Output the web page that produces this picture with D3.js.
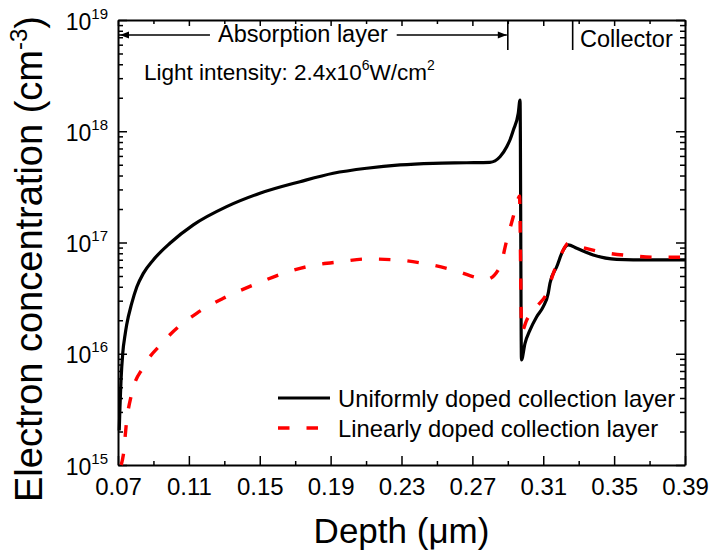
<!DOCTYPE html>
<html>
<head>
<meta charset="utf-8">
<script src="https://cdn.jsdelivr.net/npm/d3@7/dist/d3.min.js"></script>
<style>
  html, body { margin: 0; padding: 0; background: #fff; }
  svg { display: block; font-family: "Liberation Sans", Arial, sans-serif; }
</style>
</head>
<body>
<svg id="chart" width="710" height="556"></svg>
<script>
// Uniformly doped collection layer: depth (µm) and electron concentration (cm^-3)
const depthUniform = [0.0707, 0.0711, 0.0717, 0.0727, 0.0740, 0.0749, 0.0777, 0.0806, 0.0843, 0.0899,
  0.0993, 0.1125, 0.1313, 0.1501, 0.1727, 0.1915, 0.2104, 0.2292, 0.2479, 0.2668,
  0.2799, 0.2856, 0.2894, 0.2912, 0.2931, 0.2959, 0.2969,
  0.2977, 0.2997, 0.3025, 0.3063, 0.3100, 0.3128, 0.3138, 0.3176, 0.3213, 0.3241,
  0.3289, 0.3382, 0.3514, 0.3702, 0.3900];
const concUniform = [2.04e15, 3.31e15, 5.75e15, 1.02e16, 1.48e16, 1.82e16, 2.82e16, 3.98e16, 5.28e16, 6.97e16,
  9.84e16, 1.44e17, 2.10e17, 2.77e17, 3.52e17, 4.19e17, 4.65e17, 4.98e17, 5.15e17, 5.21e17,
  5.26e17, 5.90e17, 7.26e17, 8.34e17, 1.02e18, 1.45e18, 1.91e18,
  8.79e15, 1.24e16, 1.63e16, 2.15e16, 2.65e16, 3.49e16, 4.30e16, 6.05e16, 8.57e16, 9.51e16,
  8.87e16, 7.73e16, 7.06e16, 6.97e16, 6.97e16];

// Linearly doped collection layer
const depthLinear = [0.0718, 0.0730, 0.0749, 0.0777, 0.0843, 0.0956, 0.0993, 0.1144, 0.1294, 0.1464,
  0.1633, 0.1784, 0.1953, 0.2104, 0.2273, 0.2423, 0.2592, 0.2743, 0.2781, 0.2856,
  0.2894, 0.2931, 0.2959, 0.2966,
  0.2978, 0.3007, 0.3063, 0.3119, 0.3157, 0.3204, 0.3241, 0.3307, 0.3420, 0.3608,
  0.3759, 0.3900];
const concLinear = [1.0e15, 1.23e15, 2.51e15, 4.37e15, 7.59e15, 1.28e16, 1.48e16, 2.31e16, 3.15e16, 4.15e16,
  5.28e16, 6.15e16, 6.71e16, 7.11e16, 6.97e16, 6.50e16, 5.66e16, 4.76e16, 4.67e16, 6.05e16,
  1.05e17, 1.71e17, 2.49e17, 2.62e17,
  1.58e16, 2.01e16, 2.65e16, 3.49e16, 5.28e16, 8.00e16, 9.84e16, 9.16e16, 8.26e16, 7.57e16,
  7.36e16, 7.36e16];

// Axis ticks
const xMajorTicks = [0.07, 0.11, 0.15, 0.19, 0.23, 0.27, 0.31, 0.35, 0.39];
const xMinorTicks = [0.09, 0.13, 0.17, 0.21, 0.25, 0.29, 0.33, 0.37];
const yExponents = [15, 16, 17, 18, 19];

// Region boundaries along depth (µm)
const absorptionEnd = 0.29;
const collectorStart = 0.3266;

const svg = d3.select("#chart");
const plot = { left: 118, right: 685, top: 20, bottom: 465 };

const x = d3.scaleLinear().domain([0.07, 0.39]).range([plot.left, plot.right]);
const y = d3.scaleLog().domain([1e15, 1e19]).range([plot.bottom, plot.top]);

const yMajor = yExponents.map(e => Math.pow(10, e));
const yMinor = [];
for (let e = 15; e < 19; e++) for (let m = 2; m <= 9; m++) yMinor.push(m * Math.pow(10, e));

function styleAxis(g) {
  g.select(".domain").attr("stroke", "#000").attr("stroke-width", 2);
  g.selectAll(".tick line").attr("stroke", "#000").attr("stroke-width", 1.5);
}

// Bottom axis
const gB = svg.append("g").attr("transform", `translate(0,${plot.bottom})`)
  .call(d3.axisBottom(x).tickValues(xMajorTicks).tickSizeInner(-9).tickSizeOuter(0).tickPadding(13)
    .tickFormat(d3.format(".2f")));
styleAxis(gB);
gB.selectAll(".tick text").attr("font-size", 24).attr("fill", "#000").attr("font-family", "Liberation Sans, Arial, sans-serif");
svg.append("g").attr("transform", `translate(0,${plot.bottom})`)
  .call(d3.axisBottom(x).tickValues(xMinorTicks).tickSizeInner(-4).tickSizeOuter(0).tickFormat(""))
  .call(g => { g.select(".domain").remove(); g.selectAll(".tick line").attr("stroke", "#000").attr("stroke-width", 1.5); });

// Top axis
const gT = svg.append("g").attr("transform", `translate(0,${plot.top})`)
  .call(d3.axisTop(x).tickValues(xMajorTicks).tickSizeInner(-6).tickSizeOuter(0).tickFormat(""));
styleAxis(gT);
svg.append("g").attr("transform", `translate(0,${plot.top})`)
  .call(d3.axisTop(x).tickValues(xMinorTicks).tickSizeInner(-4).tickSizeOuter(0).tickFormat(""))
  .call(g => { g.select(".domain").remove(); g.selectAll(".tick line").attr("stroke", "#000").attr("stroke-width", 1.5); });

// Left axis
const gL = svg.append("g").attr("transform", `translate(${plot.left},0)`)
  .call(d3.axisLeft(y).tickValues(yMajor).tickSizeInner(-9).tickSizeOuter(0).tickPadding(10).tickFormat(() => ""));
styleAxis(gL);
gL.selectAll(".tick text").each(function(d) {
  const t = d3.select(this).attr("dy", null).attr("fill", "#000")
    .attr("font-family", "Liberation Sans, Arial, sans-serif");
  t.text(null);
  t.append("tspan").attr("font-size", 23).attr("dy", 9).text("10");
  t.append("tspan").attr("font-size", 15).attr("dy", -11).text(String(Math.round(Math.log10(d))));
});
svg.append("g").attr("transform", `translate(${plot.left},0)`)
  .call(d3.axisLeft(y).tickValues(yMinor).tickSizeInner(-5).tickSizeOuter(0).tickFormat(() => ""))
  .call(g => { g.select(".domain").remove(); g.selectAll(".tick line").attr("stroke", "#000").attr("stroke-width", 1.5); });

// Right axis
const gR = svg.append("g").attr("transform", `translate(${plot.right},0)`)
  .call(d3.axisRight(y).tickValues(yMajor).tickSizeInner(-9).tickSizeOuter(0).tickFormat(() => ""));
styleAxis(gR);
svg.append("g").attr("transform", `translate(${plot.right},0)`)
  .call(d3.axisRight(y).tickValues(yMinor).tickSizeInner(-5).tickSizeOuter(0).tickFormat(() => ""))
  .call(g => { g.select(".domain").remove(); g.selectAll(".tick line").attr("stroke", "#000").attr("stroke-width", 1.5); });

// Curves
const line = d3.line().x(d => x(d[0])).y(d => y(d[1])).curve(d3.curveMonotoneX);
const uniformPts = d3.zip(depthUniform, concUniform);
const linearPts = d3.zip(depthLinear, concLinear);

svg.append("path").datum(uniformPts).attr("d", line)
  .attr("fill", "none").attr("stroke", "#000").attr("stroke-width", 3.2).attr("stroke-linejoin", "round");
svg.append("path").datum(linearPts).attr("d", line)
  .attr("fill", "none").attr("stroke", "#ff0000").attr("stroke-width", 3.4)
  .attr("stroke-dasharray", "11.5,17");

// Region annotations
const arrowY = 35;
const ann = svg.append("g").attr("stroke", "#000").attr("stroke-width", 1.6);
ann.append("line").attr("x1", x(0.0705)).attr("x2", x(0.1219)).attr("y1", arrowY).attr("y2", arrowY);
ann.append("line").attr("x1", x(0.2273)).attr("x2", x(absorptionEnd) - 1).attr("y1", arrowY).attr("y2", arrowY);
ann.append("line").attr("x1", x(absorptionEnd)).attr("x2", x(absorptionEnd)).attr("y1", plot.top).attr("y2", plot.top + 30);
ann.append("line").attr("x1", x(collectorStart)).attr("x2", x(collectorStart)).attr("y1", plot.top).attr("y2", plot.top + 30);
const ax0 = x(0.07) + 2, ax1 = x(absorptionEnd) - 1;
svg.append("path").attr("d", `M${ax0},${arrowY} l9,-3.5 l0,7 Z`).attr("fill", "#000");
svg.append("path").attr("d", `M${ax1},${arrowY} l-9,-3.5 l0,7 Z`).attr("fill", "#000");

svg.append("text").attr("x", 218).attr("y", 42).attr("font-size", 23.5).text("Absorption layer");
svg.append("text").attr("x", 580).attr("y", 47).attr("font-size", 23.5).text("Collector");

const li = svg.append("text").attr("x", 144).attr("y", 80).attr("font-size", 22.5);
li.append("tspan").text("Light intensity: 2.4x10");
li.append("tspan").attr("font-size", 14).attr("dy", -10).text("6");
li.append("tspan").attr("dy", 10).text("W/cm");
li.append("tspan").attr("font-size", 14).attr("dy", -10).text("2");

// Legend
const legend = svg.append("g");
legend.append("line").attr("x1", 278).attr("x2", 330).attr("y1", 398).attr("y2", 398)
  .attr("stroke", "#000").attr("stroke-width", 3.2);
legend.append("text").attr("x", 338).attr("y", 407).attr("font-size", 23.8).text("Uniformly doped collection layer");
legend.append("line").attr("x1", 278).attr("x2", 330).attr("y1", 428).attr("y2", 428)
  .attr("stroke", "#ff0000").attr("stroke-width", 3.4).attr("stroke-dasharray", "11.5,17");
legend.append("text").attr("x", 338).attr("y", 437).attr("font-size", 23.8).text("Linearly doped collection layer");

// Axis titles
svg.append("text").attr("x", (plot.left + plot.right) / 2).attr("y", 543)
  .attr("text-anchor", "middle").attr("font-size", 35).text("Depth (\u03bcm)");
const yt = svg.append("text").attr("transform", "translate(42,259) rotate(-90)")
  .attr("text-anchor", "middle").attr("font-size", 38);
yt.append("tspan").text("Electron concentration (cm");
yt.append("tspan").attr("font-size", 24).attr("dy", -15).text("-3");
yt.append("tspan").attr("dy", 15).text(")");
</script>
</body>
</html>
